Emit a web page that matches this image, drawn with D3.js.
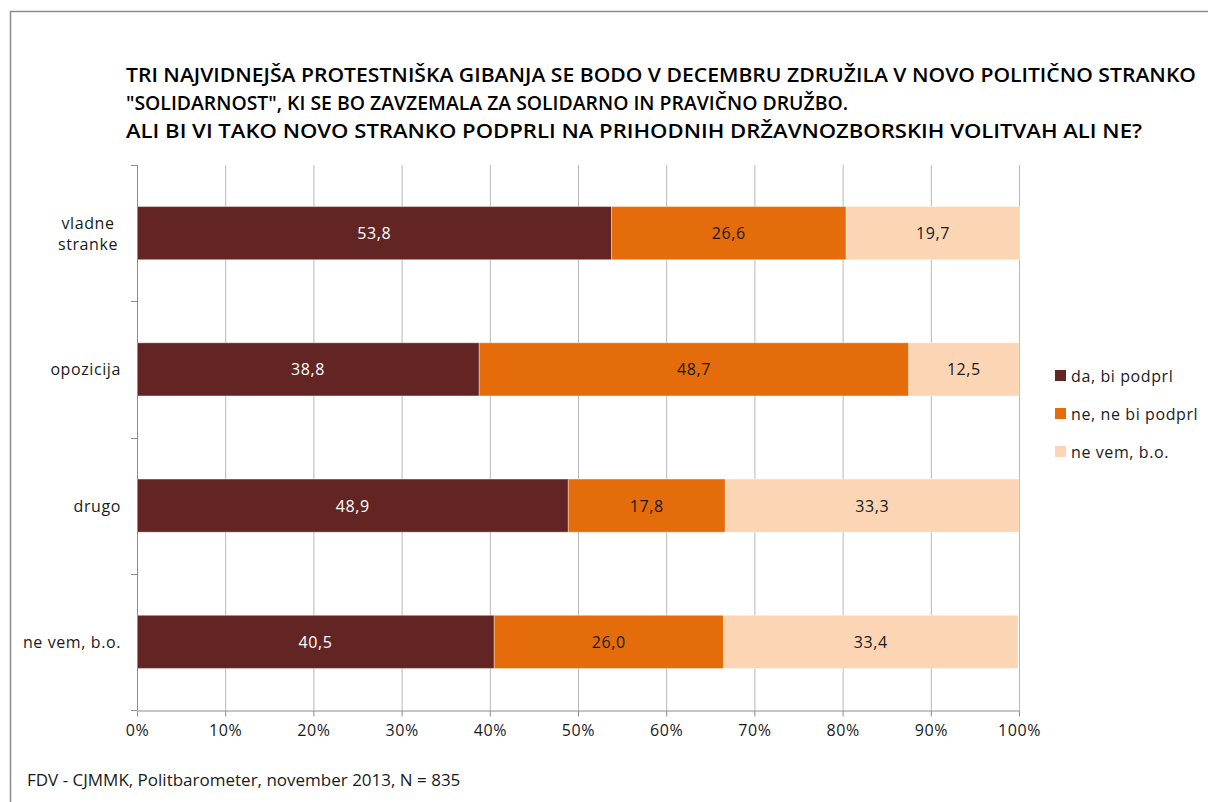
<!DOCTYPE html>
<html>
<head>
<meta charset="utf-8">
<script src="https://cdn.jsdelivr.net/npm/d3@7"></script>
<style>
  html, body { margin: 0; padding: 0; background: #fff; }
  svg { display: block; }
  text { font-family: "Open Sans", "Liberation Sans", sans-serif; }
</style>
</head>
<body>
<svg id="chart" width="1208" height="802"></svg>
<script>
// Survey groups (top to bottom) and answer shares in percent
const categories = ["vladne stranke", "opozicija", "drugo", "ne vem, b.o."];
const seriesNames = ["da, bi podprl", "ne, ne bi podprl", "ne vem, b.o."];
const daBiPodprl = [53.8, 38.8, 48.9, 40.5];
const neNeBiPodprl = [26.6, 48.7, 17.8, 26.0];
const neVem = [19.7, 12.5, 33.3, 33.4];
const tickValues = [0, 10, 20, 30, 40, 50, 60, 70, 80, 90, 100];
const titleLines = [
  "TRI NAJVIDNEJŠA PROTESTNIŠKA GIBANJA SE BODO V DECEMBRU ZDRUŽILA V NOVO POLITIČNO STRANKO",
  "\"SOLIDARNOST\", KI SE BO ZAVZEMALA ZA SOLIDARNO IN PRAVIČNO DRUŽBO.",
  "ALI BI VI TAKO NOVO STRANKO PODPRLI NA PRIHODNIH DRŽAVNOZBORSKIH VOLITVAH ALI NE?"
];
const sourceText = "FDV - CJMMK, Politbarometer, november 2013, N = 835";

const colors = ["#632523", "#E46C0A", "#FCD5B5"];
const labelColors = ["#ffffff", "#1a1a1a", "#1a1a1a"];

const svg = d3.select("#chart");

// outer frame
svg.append("path")
  .attr("d", "M10.5,802 V11.5 H1208")
  .attr("fill", "none")
  .attr("stroke", "#8c8c8c")
  .attr("stroke-width", 1.5);

// title, squeezed to a condensed look
const titleWidths = [1070, 722, 1016];
const title = svg.append("g");
titleLines.forEach((line, i) => {
  title.append("text")
    .attr("x", 126)
    .attr("y", 82 + i * 28)
    .attr("font-size", 19.5)
    .attr("font-weight", 600)
    .attr("fill", "#000")
    .attr("textLength", titleWidths[i])
    .attr("lengthAdjust", "spacingAndGlyphs")
    .text(line);
});

const margin = { left: 137, right: 1019, top: 165, bottom: 710 };

const x = d3.scaleLinear().domain([0, 100]).range([margin.left, margin.right]);
const y = d3.scaleBand().domain(categories).range([margin.top, margin.bottom]).paddingInner(0.61).paddingOuter(0.305);
const yb = d3.scaleBand().domain(categories).range([margin.top, margin.bottom]);

// vertical gridlines
svg.append("g")
  .selectAll("line")
  .data(tickValues.slice(1))
  .join("line")
  .attr("x1", d => x(d) + 0.5).attr("x2", d => x(d) + 0.5)
  .attr("y1", margin.top).attr("y2", margin.bottom)
  .attr("stroke", "#b8b8b8").attr("stroke-width", 1);

// stacked data
const rows = categories.map((c, i) => ({
  cat: c,
  [seriesNames[0]]: daBiPodprl[i],
  [seriesNames[1]]: neNeBiPodprl[i],
  [seriesNames[2]]: neVem[i]
}));
const stacked = d3.stack().keys(seriesNames)(rows);

const layers = svg.append("g")
  .selectAll("g")
  .data(stacked)
  .join("g")
  .attr("fill", (d, i) => colors[i]);

layers.selectAll("rect")
  .data(d => d)
  .join("rect")
  .attr("x", d => x(d[0]))
  .attr("y", d => y(d.data.cat))
  .attr("width", d => x(d[1]) - x(d[0]))
  .attr("height", y.bandwidth())
  .attr("stroke", "rgba(255,255,255,0.35)")
  .attr("stroke-width", 1);

const labelFont = 16;
const labelSpacing = 0.6;

// value labels
stacked.forEach((layer, si) => {
  svg.append("g")
    .selectAll("text")
    .data(layer)
    .join("text")
    .attr("x", d => (x(d[0]) + x(d[1])) / 2)
    .attr("y", d => y(d.data.cat) + y.bandwidth() / 2 + 6)
    .attr("text-anchor", "middle")
    .attr("font-size", labelFont)
    .attr("letter-spacing", labelSpacing)
    .attr("fill", labelColors[si])
    .text(d => d3.format(".1f")(d[1] - d[0]).replace(".", ","));
});

// y axis
const yAxis = svg.append("g");
yAxis.append("line")
  .attr("x1", margin.left + 0.5).attr("x2", margin.left + 0.5)
  .attr("y1", margin.top).attr("y2", margin.bottom)
  .attr("stroke", "#8c8c8c");
yAxis.selectAll("line.tick")
  .data(categories.map(c => yb(c)).concat([margin.bottom]))
  .join("line")
  .attr("class", "tick")
  .attr("x1", margin.left - 6).attr("x2", margin.left)
  .attr("y1", d => Math.round(d) + 0.5).attr("y2", d => Math.round(d) + 0.5)
  .attr("stroke", "#8c8c8c");

categories.forEach(c => {
  const cy = y(c) + y.bandwidth() / 2;
  const words = c === "vladne stranke" ? ["vladne", "stranke"] : [c];
  const t = svg.append("text")
    .attr("font-size", labelFont)
    .attr("letter-spacing", labelSpacing)
    .attr("fill", "#1a1a1a")
    .attr("text-anchor", words.length > 1 ? "middle" : "end");
  words.forEach((w, i) => {
    t.append("tspan")
      .attr("x", words.length > 1 ? 88 : 121)
      .attr("y", cy + 6 + (i - (words.length - 1) / 2) * 21)
      .text(w);
  });
});

// x axis
const xAxis = svg.append("g")
  .attr("transform", `translate(0,${margin.bottom + 0.5})`)
  .call(d3.axisBottom(x).tickValues(tickValues).tickSize(6).tickSizeOuter(0).tickFormat(d => d + "%"));
xAxis.select(".domain").attr("stroke", "#8c8c8c");
xAxis.selectAll(".tick line").attr("stroke", "#8c8c8c");
xAxis.selectAll(".tick text")
  .attr("font-size", labelFont)
  .attr("letter-spacing", labelSpacing)
  .attr("font-family", "'Open Sans', sans-serif")
  .attr("fill", "#1a1a1a")
  .attr("dy", "1.05em");

// legend
const legend = svg.append("g");
seriesNames.forEach((name, i) => {
  const ly = 376 + i * 38;
  legend.append("rect")
    .attr("x", 1055).attr("y", ly - 6)
    .attr("width", 11).attr("height", 11)
    .attr("fill", colors[i]);
  legend.append("text")
    .attr("x", 1071).attr("y", ly + 5.5)
    .attr("font-size", labelFont)
    .attr("letter-spacing", labelSpacing)
    .attr("fill", "#1a1a1a")
    .text(name);
});

// source note
svg.append("text")
  .attr("x", 27).attr("y", 786)
  .attr("font-size", 17)
  .attr("fill", "#1a1a1a")
  .text(sourceText);
</script>
</body>
</html>
